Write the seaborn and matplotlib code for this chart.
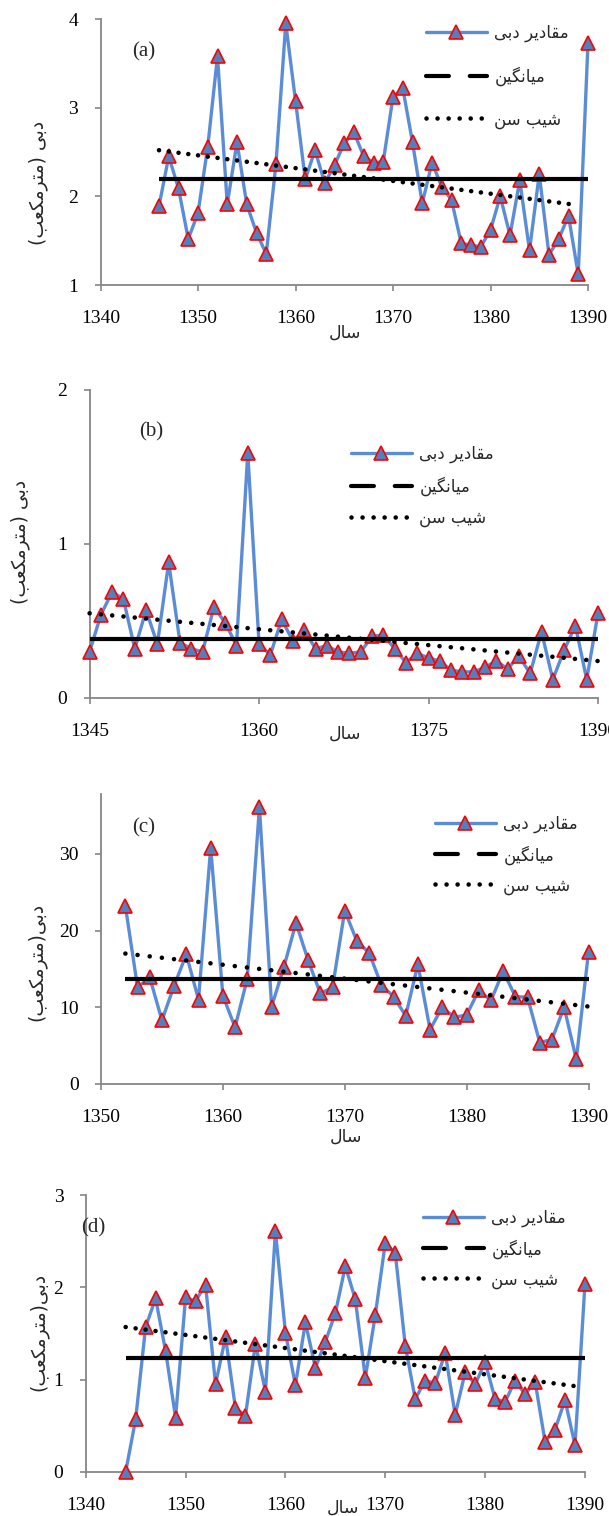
import numpy as np
import pandas as pd
import matplotlib
matplotlib.use("Agg")
import matplotlib.pyplot as plt
import seaborn as sns
from matplotlib.lines import Line2D

# ---------------- data ----------------
years_a = list(range(1346, 1391))
q_a = [1.89, 2.45, 2.09, 1.52, 1.81, 2.56, 3.58, 1.91, 2.61, 1.91, 1.59, 1.35, 2.37, 3.95, 3.08,
       2.19, 2.52, 2.15, 2.35, 2.60, 2.72, 2.45, 2.38, 2.39, 3.12, 3.22, 2.61, 1.92, 2.38, 2.11,
       1.96, 1.47, 1.45, 1.43, 1.62, 2.00, 1.56, 2.18, 1.39, 2.25, 1.34, 1.52, 1.78, 1.12, 3.73]
mean_a = 2.20
sen_a = [(1346, 2.52), (1389, 1.90)]

years_b = list(range(1345, 1391))
q_b = [0.30, 0.54, 0.69, 0.64, 0.32, 0.57, 0.35, 0.88, 0.36, 0.32, 0.30, 0.59, 0.49, 0.34, 1.59,
       0.35, 0.28, 0.51, 0.37, 0.44, 0.32, 0.34, 0.30, 0.29, 0.30, 0.40, 0.41, 0.32, 0.23, 0.29,
       0.26, 0.24, 0.18, 0.17, 0.17, 0.20, 0.24, 0.19, 0.27, 0.16, 0.43, 0.12, 0.31, 0.47, 0.12, 0.55]
mean_b = 0.385
sen_b = [(1345, 0.55), (1390, 0.24)]

years_c = list(range(1352, 1391))
q_c = [23.2, 12.6, 13.9, 8.3, 12.8, 16.9, 11.0, 30.8, 11.5, 7.4, 13.7, 36.1, 10.1, 15.2, 21.0,
       16.1, 11.8, 12.6, 22.6, 18.6, 17.1, 12.9, 11.4, 8.9, 15.6, 7.1, 10.0, 8.7, 9.0, 12.2,
       10.9, 14.7, 11.4, 11.3, 5.4, 5.8, 10.0, 3.2, 17.2]
mean_c = 13.7
sen_c = [(1352, 17.0), (1390, 10.1)]

years_d = list(range(1344, 1391))
q_d = [0.00, 0.57, 1.57, 1.88, 1.31, 0.59, 1.89, 1.85, 2.03, 0.95, 1.46, 0.69, 0.61, 1.39, 0.87,
       2.61, 1.51, 0.94, 1.62, 1.13, 1.41, 1.72, 2.23, 1.87, 1.02, 1.70, 2.48, 2.37, 1.37, 0.79,
       0.99, 0.96, 1.29, 0.62, 1.08, 0.95, 1.19, 0.79, 0.76, 0.99, 0.84, 0.98, 0.33, 0.46, 0.78,
       0.29, 2.04]
mean_d = 1.24
sen_d = [(1344, 1.57), (1389, 0.93)]

xticks_a = [1340, 1350, 1360, 1370, 1380, 1390]
xticks_b = [1345, 1360, 1375, 1390]
xticks_c = [1350, 1360, 1370, 1380, 1390]
xticks_d = [1340, 1350, 1360, 1370, 1380, 1390]
yticks_a = [1, 2, 3, 4]
yticks_b = [0, 1, 2]
yticks_c = [0, 10, 20, 30]
yticks_d = [0, 1, 2, 3]

panel_labels = ["(a)", "(b)", "(c)", "(d)"]
legend_labels = ["مقادیر دبی", "میانگین", "شیب سن"]
xlabel_text = "سال"
ylabel_text = "دبی (مترمکعب)"
ylabel_text_nospace = "دبی(مترمکعب)"

# ------------- simple Arabic/Persian shaping for display -------------
_FORMS = {
    'ا': ('\uFE8D', '\uFE8E', None, None),
    'ب': ('\uFE8F', '\uFE90', '\uFE91', '\uFE92'),
    'ت': ('\uFE95', '\uFE96', '\uFE97', '\uFE98'),
    'د': ('\uFEA9', '\uFEAA', None, None),
    'ر': ('\uFEAD', '\uFEAE', None, None),
    'س': ('\uFEB1', '\uFEB2', '\uFEB3', '\uFEB4'),
    'ش': ('\uFEB5', '\uFEB6', '\uFEB7', '\uFEB8'),
    'ع': ('\uFEC9', '\uFECA', '\uFECB', '\uFECC'),
    'ق': ('\uFED5', '\uFED6', '\uFED7', '\uFED8'),
    'ل': ('\uFEDD', '\uFEDE', '\uFEDF', '\uFEE0'),
    'م': ('\uFEE1', '\uFEE2', '\uFEE3', '\uFEE4'),
    'ن': ('\uFEE5', '\uFEE6', '\uFEE7', '\uFEE8'),
    'ی': ('\uFBFC', '\uFBFD', '\uFBFE', '\uFBFF'),
    'ک': ('\uFB8E', '\uFB8F', '\uFB90', '\uFB91'),
    'گ': ('\uFB92', '\uFB93', '\uFB94', '\uFB95'),
}
_RIGHT_ONLY = set('ادر')


def shape(text):
    out = []
    for i, c in enumerate(text):
        if c not in _FORMS:
            out.append(c)
            continue
        prev = text[i - 1] if i > 0 else None
        nxt = text[i + 1] if i + 1 < len(text) else None
        jp = prev in _FORMS and prev not in _RIGHT_ONLY
        jn = nxt in _FORMS and c not in _RIGHT_ONLY
        iso, fin, ini, med = _FORMS[c]
        if jp and jn:
            out.append(med)
        elif jp:
            out.append(fin)
        elif jn:
            out.append(ini)
        else:
            out.append(iso)
    s = ''.join(reversed(out))
    return s.translate(str.maketrans('()', ')('))


# ---------------- style ----------------
sns.set_theme(style="white")
plt.rcParams['font.family'] = ['Liberation Serif', 'DejaVu Sans']
ARABIC = ['DejaVu Sans']

W, H = 609, 1516
fig = plt.figure(figsize=(W / 100, H / 100), dpi=100)

LINE_C = '#5B8DD6'
MARK_C = '#4F81BD'
AX_C = '#868686'


def px(x, y):
    return x / W, 1 - y / H


panels = [
    dict(years=years_a, q=q_a, mean=mean_a, sen=sen_a, xt=xticks_a, yt=yticks_a,
         xlim=(1340, 1390), ylim=(1, 4), rect=(100.5, 19, 588, 285),
         lab=(144, 52), leg=(426, 24, 1.45), xl=(345, 333), yl=(38, 183, ylabel_text), dot=9.8),
    dict(years=years_b, q=q_b, mean=mean_b, sen=sen_b, xt=xticks_b, yt=yticks_b,
         xlim=(1345, 1390), ylim=(0, 2), rect=(89.6, 390, 598, 698),
         lab=(151, 432), leg=(351, 445, 0.78), xl=(345, 734), yl=(20, 542, ylabel_text), dot=11.3),
    dict(years=years_c, q=q_c, mean=mean_c, sen=sen_c, xt=xticks_c, yt=yticks_c,
         xlim=(1350, 1390), ylim=(0, 37.8), rect=(101, 794, 588.5, 1084),
         lab=(144, 828), leg=(435, 815, 0.7), xl=(346, 1137), yl=(37, 962, ylabel_text_nospace), dot=12.2),
    dict(years=years_d, q=q_d, mean=mean_d, sen=sen_d, xt=xticks_d, yt=yticks_d,
         xlim=(1340, 1390), ylim=(0, 3), rect=(85.7, 1195, 585, 1472),
         lab=(93, 1228), leg=(423, 1209, 0.7), xl=(343, 1508), yl=(39, 1332, ylabel_text_nospace), dot=10.0),
]

for i, p in enumerate(panels):
    x0, y0, x1, y1 = p['rect']
    ax = fig.add_axes([x0 / W, 1 - y1 / H, (x1 - x0) / W, (y1 - y0) / H])
    df = pd.DataFrame({'year': p['years'], 'q': p['q']})
    sns.lineplot(data=df, x='year', y='q', ax=ax, color=LINE_C, linewidth=2.4,
                 marker='^', markersize=10, markerfacecolor=MARK_C, markeredgecolor='red',
                 markeredgewidth=1.2, clip_on=False, zorder=3)
    # mean line
    ax.plot([p['years'][0], p['years'][-1]], [p['mean'], p['mean']], color='black',
            linewidth=3.0, solid_capstyle='butt', zorder=4, clip_on=False)
    # Sen slope trend
    (sx0, sy0), (sx1, sy1) = p['sen']
    lw_dot = 3.3
    ax.plot([sx0, sx1], [sy0, sy1], color='black', linewidth=lw_dot,
            linestyle=(0, (0.01, p['dot'] / (lw_dot * 1.39))), dash_capstyle='round', zorder=5,
            clip_on=False)

    ax.set_xlim(*p['xlim'])
    ax.set_ylim(*p['ylim'])
    ax.set_xticks(p['xt'])
    ax.set_yticks(p['yt'])
    ax.set_xticklabels([str(t) for t in p['xt']])
    ax.set_yticklabels([str(t) for t in p['yt']])
    ax.set_xlabel('')
    ax.set_ylabel('')
    for s in ['top', 'right']:
        ax.spines[s].set_visible(False)
    for s in ['left', 'bottom']:
        ax.spines[s].set_color(AX_C)
        ax.spines[s].set_linewidth(1.3)
    ax.tick_params(axis='both', which='major', direction='out', length=4, width=1.2,
                   color=AX_C, labelsize=14, labelcolor='black', pad=12,
                   bottom=True, left=True)
    ax.tick_params(axis='x', pad=14)
    for t in ax.get_xticklabels() + ax.get_yticklabels():
        t.set_fontfamily('Liberation Serif')

    # panel label
    fig.text(*px(*p['lab']), panel_labels[i], fontsize=15, family='Liberation Serif',
             ha='center', va='center')
    # axis labels
    fig.text(*px(p['xl'][0], p['xl'][1]), shape(xlabel_text), family=ARABIC, fontsize=12.5,
             ha='center', va='center')
    fig.text(*px(p['yl'][0], p['yl'][1]), shape(p['yl'][2]), family=ARABIC, fontsize=13.5,
             rotation=90, ha='center', va='center')

    # legend
    handles = [
        Line2D([0], [0], color=LINE_C, linewidth=2.4, marker='^', markersize=10,
               markerfacecolor=MARK_C, markeredgecolor='red', markeredgewidth=1.2),
        Line2D([0], [0], color='black', linewidth=3.0, linestyle=(0, (5.5, 5.0)),
               dash_capstyle='round'),
        Line2D([0], [0], color='black', linewidth=3.3, linestyle=(0, (0.01, 2.4)),
               dash_capstyle='round'),
    ]
    lx, ly, lsp = p['leg']
    leg = ax.legend(handles, [shape(s) for s in legend_labels], loc='upper left',
                    bbox_to_anchor=px(lx, ly), bbox_transform=fig.transFigure,
                    frameon=False, borderpad=0, borderaxespad=0, handlelength=3.65,
                    handletextpad=0.45, labelspacing=lsp, numpoints=1,
                    prop={'family': ARABIC, 'size': 12})

fig.savefig('out.png', dpi=100)
